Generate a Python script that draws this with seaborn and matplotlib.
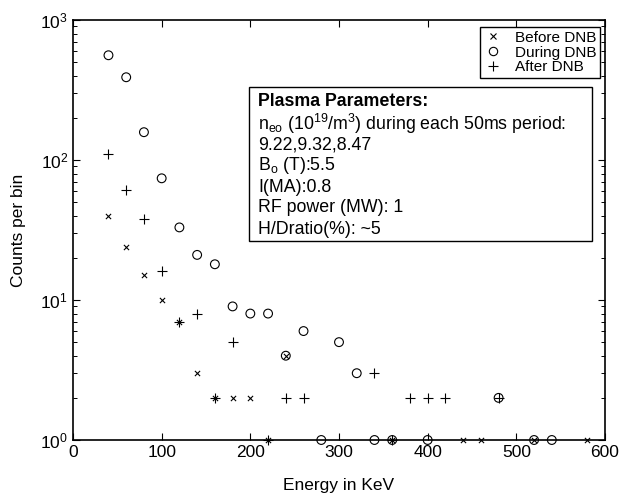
import matplotlib
matplotlib.use("Agg")
import matplotlib.pyplot as plt
import seaborn as sns
import pandas as pd
from matplotlib.patches import Rectangle
from matplotlib.lines import Line2D
from matplotlib.ticker import LogLocator

# ---- data ----
before_e = [40, 60, 80, 100, 120, 140, 160, 180, 200, 220, 240, 360, 440, 460, 520, 580]
before_c = [40, 24, 15, 10, 7, 3, 2, 2, 2, 1, 4, 1, 1, 1, 1, 1]

during_e = [40, 60, 80, 100, 120, 140, 160, 180, 200, 220, 240, 260, 280, 300, 320, 340, 360, 400, 480, 520, 540]
during_c = [560, 390, 158, 74, 33, 21, 18, 9, 8, 8, 4, 6, 1, 5, 3, 1, 1, 1, 2, 1, 1]

after_e = [40, 60, 80, 100, 120, 140, 160, 180, 220, 240, 260, 340, 360, 380, 400, 420, 480]
after_c = [110, 61, 38, 16, 7, 8, 2, 5, 1, 2, 2, 3, 1, 2, 2, 2, 2]

labels = ["Before DNB", "During DNB", "After DNB"]
x_ticks = [0, 100, 200, 300, 400, 500, 600]

info_title = "Plasma Parameters:"
info_lines = [
    r"n$_{\mathregular{eo}}$ (10$^{\mathregular{19}}$/m$^{\mathregular{3}}$) during each 50ms period:",
    "9.22,9.32,8.47",
    r"B$_{\mathregular{o}}$ (T):5.5",
    "I(MA):0.8",
    "RF power (MW): 1",
    "H/Dratio(%): ~5",
]

sns.set_style("ticks")
plt.rcParams["font.family"] = ["Liberation Sans", "DejaVu Sans"]
plt.rcParams["mathtext.fontset"] = "custom"
plt.rcParams["mathtext.rm"] = "Liberation Sans"
plt.rcParams["mathtext.it"] = "Liberation Sans"
plt.rcParams["mathtext.bf"] = "Liberation Sans:bold"
for k in ["text.color", "axes.labelcolor", "xtick.color", "ytick.color", "axes.edgecolor"]:
    plt.rcParams[k] = "black"

W, H = 628, 499
fig = plt.figure(figsize=(W / 100, H / 100), dpi=100)
L, R, T, B = 73, 605, 20, 440
ax = fig.add_axes([L / W, 1 - B / H, (R - L) / W, (B - T) / H])

df_b = pd.DataFrame({"Energy": before_e, "Counts": before_c})
df_d = pd.DataFrame({"Energy": during_e, "Counts": during_c})
df_a = pd.DataFrame({"Energy": after_e, "Counts": after_c})

sns.scatterplot(data=df_b, x="Energy", y="Counts", marker="x", s=14, color="black",
                linewidth=0.8, ax=ax, clip_on=False, zorder=3)
sns.scatterplot(data=df_d, x="Energy", y="Counts", marker="o", s=40, facecolors="none",
                edgecolor="black", linewidth=0.8, ax=ax, clip_on=False, zorder=3)
sns.scatterplot(data=df_a, x="Energy", y="Counts", marker="+", s=50, color="black",
                linewidth=0.8, ax=ax, clip_on=False, zorder=3)

ax.set_yscale("log")
ax.set_xlim(0, 600)
ax.set_ylim(1, 1000)
ax.set_xticks(x_ticks)
ax.yaxis.set_major_locator(LogLocator(base=10, numticks=10))
ax.yaxis.set_minor_locator(LogLocator(base=10, subs=range(2, 10), numticks=10))
ax.tick_params(which="both", direction="in", top=True, right=True, labelsize=12.5, colors="black")
ax.tick_params(which="major", length=5, width=0.8)
ax.tick_params(which="minor", length=3, width=0.7)
ax.tick_params(axis="x", which="minor", top=False, bottom=False)
for sp in ax.spines.values():
    sp.set_linewidth(1.2)
    sp.set_color("black")

ax.set_xlabel("Energy in KeV", fontsize=12.5, labelpad=13)
ax.set_ylabel("Counts per bin", fontsize=12.5, labelpad=10)

# legend
handles = [
    Line2D([], [], linestyle="none", marker="x", markersize=4, color="black", markeredgewidth=0.8),
    Line2D([], [], linestyle="none", marker="o", markersize=6, markerfacecolor="none",
           markeredgecolor="black", markeredgewidth=0.8),
    Line2D([], [], linestyle="none", marker="+", markersize=7, color="black", markeredgewidth=0.8),
]
leg = ax.legend(handles, labels, loc="upper right",
                bbox_to_anchor=((600 - L) / (R - L), 1 - (27 - T) / (B - T)),
                borderaxespad=0, fancybox=False, framealpha=1, edgecolor="black",
                fontsize=11, handlelength=1.2, handletextpad=0.8, labelspacing=0.05,
                borderpad=0.25)
leg.get_frame().set_linewidth(1.0)

# info box
bx0, bx1, by0, by1 = 249, 592, 87, 241
fig.patches.append(Rectangle((bx0 / W, 1 - by1 / H), (bx1 - bx0) / W, (by1 - by0) / H,
                             transform=fig.transFigure, fill=True, facecolor="white",
                             edgecolor="black", linewidth=1.0, zorder=5))
fig.text(258 / W, 1 - 102 / H, info_title, fontsize=12.8, fontweight="bold", va="center",
         ha="left", zorder=6)
ys = [124, 145, 166, 187, 208, 229]
for yy, line in zip(ys, info_lines):
    fig.text(258 / W, 1 - yy / H, line, fontsize=12.8, va="center", ha="left", zorder=6)

fig.savefig("out.png", dpi=100)
